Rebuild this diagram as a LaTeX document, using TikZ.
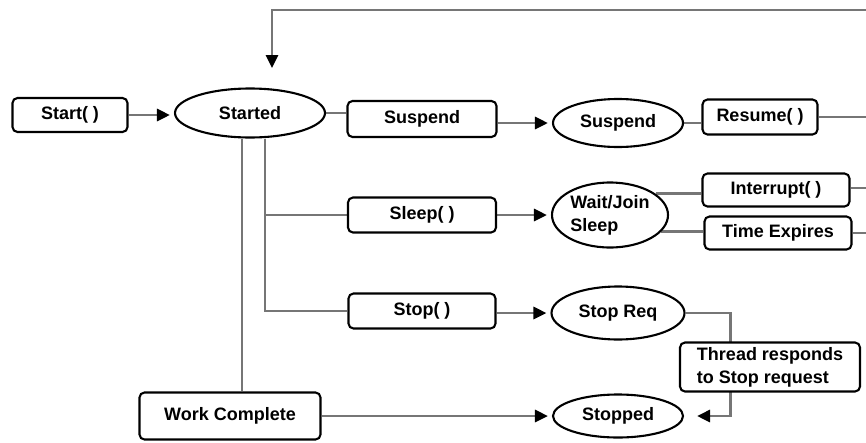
\documentclass[tikz,border=0pt]{standalone}
\usepackage{fontspec}
\setmainfont{Liberation Sans}
\usetikzlibrary{shapes.geometric,arrows.meta,backgrounds}
\definecolor{wiregray}{RGB}{118,118,118}
\begin{document}
\begin{tikzpicture}[x=1pt,y=-1pt,
  every node/.style={font=\fontsize{18}{23}\selectfont\bfseries, text=black},
  box/.style={draw=black, line width=2.1pt, rounded corners=5pt, fill=white,
              inner sep=0pt, minimum width=#1},
  box/.default=147pt,
  state/.style={ellipse, draw=black, line width=2.1pt, fill=white, inner sep=0pt},
  wire/.style={draw=wiregray, line width=2.8pt},
  flow/.style={wire, -{Triangle[length=13pt,width=12pt,color=black]}, shorten >=4pt}
]
\useasboundingbox (0,0) rectangle (866,442);

% states and transitions
\node[box=115pt, minimum height=34pt] (start) at (70,115) {Start( )};
\node[state, minimum width=150pt, minimum height=49pt] (started) at (250,113) {Started};
\node[box=149pt, minimum height=36pt] (suspendbox) at (422,119) {Suspend};
\node[state, minimum width=130pt, minimum height=48pt] (suspend) at (618,123) {Suspend};
\node[box=115pt, minimum height=35pt] (resume) at (760,117) {Resume( )};
\node[box=148pt, minimum height=35pt] (sleepbox) at (422,215) {Sleep( )};
\node[state, minimum width=116pt, minimum height=65pt, align=left] (wait) at (610,215) {Wait/Join\\Sleep};
\node[box=147pt, minimum height=33pt] (interrupt) at (776,190) {Interrupt( )};
\node[box=147pt, minimum height=33pt] (expires) at (778,233) {Time Expires};
\node[box=147pt, minimum height=35pt] (stopbox) at (422,311) {Stop( )};
\node[state, minimum width=133pt, minimum height=53pt] (stopreq) at (618,313) {Stop Req};
\node[box=180pt, minimum height=49pt, align=left] (thread) at (770,367) {Thread responds\\to Stop request};
\node[state, minimum width=130pt, minimum height=43pt] (stopped) at (618,416) {Stopped};
\node[box=181pt, minimum height=47pt] (work) at (230,416) {Work Complete};

% return path along the top and the right edge
\coordinate (edgetop) at (866,10);
\coordinate (edgeright) at (866,0);
\coordinate (retin) at (272,68);

\begin{scope}[on background layer]
  \draw[flow, shorten >=0pt] (edgetop) -| (retin);
  \draw[flow] (start.east) -- (start.east -| started.west);
  \draw[wire] (started.east) -- (started.east -| suspendbox.west);
  \draw[flow] (suspendbox.east |- suspend) -- (suspend.west);
  \draw[wire] (suspend.east) -- (suspend.east -| resume.west);
  \draw[wire] (resume.east) -- (resume.east -| edgeright);

  \draw[wire] ([xshift=-8pt]started.south) -- ([xshift=-8pt]started.south |- work.north);
  \draw[wire] ([xshift=15pt]started.south) |- (stopbox.west);
  \draw[wire] ([xshift=15pt]started.south |- sleepbox.west) -- (sleepbox.west);

  \draw[flow] (sleepbox.east) -- (wait.west);
  \draw[wire] (wait.25) -- (wait.25 -| interrupt.west);
  \draw[wire] (wait.-18) -- (wait.-18 -| expires.west);
  \draw[wire] ([yshift=2pt]interrupt.east) -- ([yshift=2pt]interrupt.east -| edgeright);
  \draw[wire] (expires.east) -- (expires.east -| edgeright);

  \draw[flow] (stopbox.east |- stopreq) -- (stopreq.west);
  \draw[flow, shorten >=13pt] (stopreq.east) -- ++(45,0) |- (stopped.east);
  \draw[flow] (work.east |- stopped) -- (stopped.west);
\end{scope}
\end{tikzpicture}
\end{document}
